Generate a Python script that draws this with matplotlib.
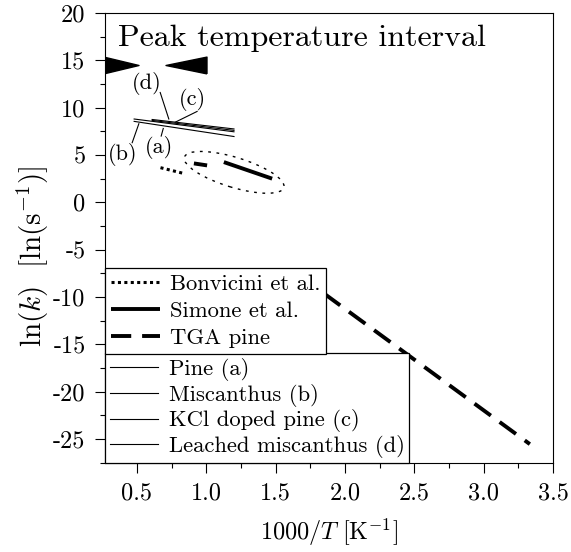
import numpy as np
import matplotlib
matplotlib.use("Agg")
import matplotlib.pyplot as plt
from matplotlib.path import Path
from matplotlib.patches import Ellipse
from matplotlib.transforms import ScaledTranslation

plt.rcParams["font.family"] = "serif"
plt.rcParams["font.serif"] = ["cmr10"]
plt.rcParams["mathtext.fontset"] = "cm"
plt.rcParams["axes.unicode_minus"] = False
plt.rcParams["axes.formatter.use_mathtext"] = False

# kinetic lines, 1000/T [1/K] vs ln(k)
pine_x = [0.48, 1.2]
pine_y = [8.55, 6.95]
miscanthus_x = [0.48, 1.2]
miscanthus_y = [8.8, 7.45]
kcl_pine_x = [0.61, 1.2]
kcl_pine_y = [8.75, 7.75]
leached_misc_x = [0.61, 1.2]
leached_misc_y = [8.65, 7.6]

bonvicini_x = [0.67, 0.843]
bonvicini_y = [3.66, 3.03]
simone_x = [0.911, 1.006, np.nan, 1.127, 1.475]
simone_y = [4.11, 3.9, np.nan, 4.25, 2.5]
tga_pine_x = [1.667, 3.333]
tga_pine_y = [-7.68, -25.54]

# peak temperature interval arrows
peak_arrow_x = [0.388, 0.853]
peak_arrow_y = 14.46

# labels: (text, line point, label position, leader start)
line_labels = [
    ("(d)", (0.73, 8.8), (0.574, 12.6), (0.668, 11.6)),
    ("(c)", (0.776, 8.46), (0.898, 10.85), (0.934, 9.6)),
    ("(b)", (0.514, 8.3), (0.394, 5.06), (0.466, 6.3)),
    ("(a)", (0.69, 7.8), (0.658, 5.8), (0.675, 7.0)),
]

ellipse_center = (1.201, 3.165)

fig = plt.figure(figsize=(5.71, 5.52), dpi=100)
ax = fig.add_axes([0.1839, 0.1618, 0.7846, 0.8147])

h_bon, = ax.plot(bonvicini_x, bonvicini_y, color="k", lw=2.2, dashes=(1, 1.1),
                 label="Bonvicini et al.")
h_sim, = ax.plot(simone_x, simone_y, color="k", lw=2.8, solid_capstyle="butt",
                 label="Simone et al.")
h_tga, = ax.plot(tga_pine_x, tga_pine_y, color="k", lw=2.8, dashes=(5.2, 2.8),
                 label="TGA pine")

h_a, = ax.plot(pine_x, pine_y, color="k", lw=0.8, label="Pine (a)")
h_b, = ax.plot(miscanthus_x, miscanthus_y, color="k", lw=0.8, label="Miscanthus (b)")
h_c, = ax.plot(kcl_pine_x, kcl_pine_y, color="k", lw=0.8, label="KCl doped pine (c)")
h_d, = ax.plot(leached_misc_x, leached_misc_y, color="k", lw=0.8,
               label="Leached miscanthus (d)")

for txt, xy, xytext, lead in line_labels:
    ax.text(xytext[0], xytext[1], txt, fontsize=16, ha="center", va="center")
    ax.plot([lead[0], xy[0]], [lead[1], xy[1]], color="k", lw=0.8)

# dotted ellipse around Simone data, sized in inches
ell = Ellipse((0, 0), 1.04, 0.30, angle=-17, fill=False, ec="k", lw=1.0,
              ls=(0, (2, 4)),
              transform=fig.dpi_scale_trans + ScaledTranslation(*ellipse_center, ax.transData))
ax.add_patch(ell)

# arrowheads
right_tri = Path([(-1, -0.48), (1, 0), (-1, 0.48), (-1, -0.48)])
left_tri = Path([(1, -0.41), (-1, 0), (1, 0.41), (1, -0.41)])
ax.plot([peak_arrow_x[0]], [peak_arrow_y], marker=right_tri, ms=25.2, color="k", ls="none")
ax.plot([peak_arrow_x[1]], [peak_arrow_y], marker=left_tri, ms=29.5, color="k", ls="none")

ax.text(0.029, 0.944, "Peak temperature interval", transform=ax.transAxes,
        fontsize=23, ha="left", va="center")

ax.set_xlim(0.27, 3.5)
ax.set_ylim(-27.3, 20)
ax.set_xticks(np.arange(0.5, 3.51, 0.5))
ax.set_xticks(np.arange(0.75, 3.5, 0.5), minor=True)
ax.set_yticks(np.arange(-25, 21, 5))
ax.set_yticks(np.arange(-27.5, 20, 5), minor=True)
ax.tick_params(which="major", direction="out", length=7, width=0.8, labelsize=17.5, pad=7)
ax.tick_params(which="minor", direction="out", length=3.5, width=0.8)
ax.tick_params(top=False, right=False, which="both")
for s in ax.spines.values():
    s.set_linewidth(0.8)

ax.set_xlabel(r"$1000/T\ [\mathrm{K}^{\mathrm{-}1}]$", fontsize=17.5, labelpad=9)
ax.set_ylabel(r"$\ln(k)\ \ [\ln(\mathrm{s}^{\mathrm{-}1})]$", fontsize=21,
              va="center")
ax.yaxis.set_label_coords(-0.161, 0.46)

leg_kw = dict(fontsize=16.3, frameon=True, fancybox=False, edgecolor="k",
              framealpha=1, handlelength=2.16, handletextpad=0.45,
              borderaxespad=0)
leg2 = ax.legend(handles=[h_a, h_b, h_c, h_d], loc="lower left",
                 bbox_to_anchor=(0, 0), borderpad=0.2, labelspacing=0.12, **leg_kw)
leg2.get_frame().set_linewidth(0.9)
ax.add_artist(leg2)
leg1 = ax.legend(handles=[h_bon, h_sim, h_tga], loc="lower left",
                 bbox_to_anchor=(0, 0.2417), borderpad=0.26, labelspacing=0.32, **leg_kw)
leg1.get_frame().set_linewidth(0.9)

fig.savefig("out.png", dpi=100)
